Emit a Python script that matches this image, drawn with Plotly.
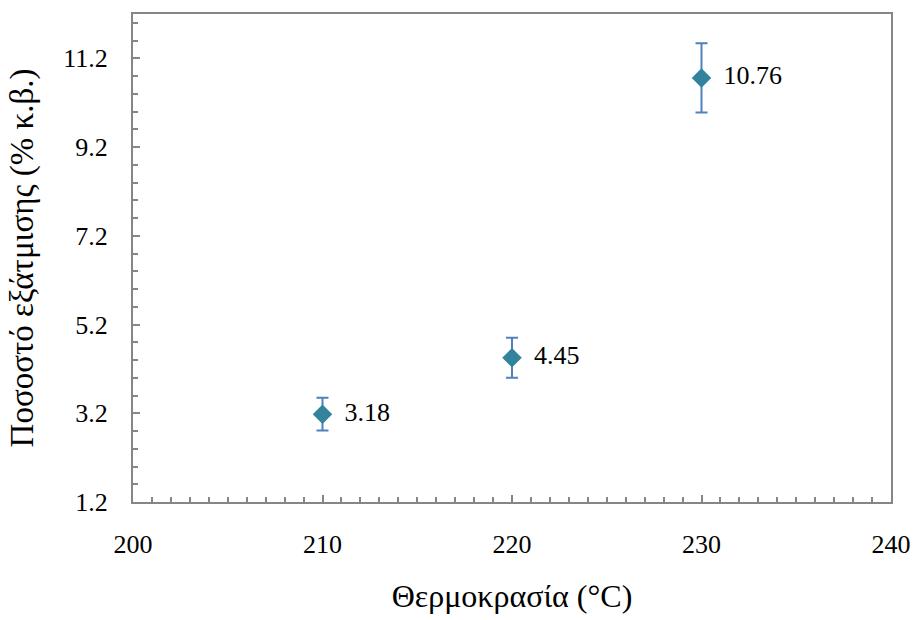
import plotly.graph_objects as go

temperature = [210, 220, 230]
evaporation = [3.18, 4.45, 10.76]
error = [0.37, 0.45, 0.78]
labels = ["3.18", "4.45", "10.76"]

x_ticks = [200, 210, 220, 230, 240]
y_ticks = [1.2, 3.2, 5.2, 7.2, 9.2, 11.2]

serif = "Liberation Serif"
axis_grey = "#868686"

fig = go.Figure()
fig.add_trace(go.Scatter(
    x=temperature,
    y=evaporation,
    mode="markers+text",
    text=[" \u2009" + t for t in labels],
    textposition="middle right",
    textfont=dict(family=serif, size=26, color="black"),
    marker=dict(symbol="diamond", size=15, color="#31849B"),
    error_y=dict(type="data", array=error, visible=True,
                 color="#4F81BD", thickness=2, width=6),
    showlegend=False,
    cliponaxis=False,
))

fig.update_layout(
    width=923, height=620,
    margin=dict(l=133, r=21, t=14, b=113),
    plot_bgcolor="white", paper_bgcolor="white",
    font=dict(family=serif, color="black"),
)

fig.update_xaxes(
    range=[200, 240],
    tickvals=x_ticks,
    ticktext=[str(v) for v in x_ticks],
    tickfont=dict(family=serif, size=26),
    showgrid=False, zeroline=False,
    showline=True, linecolor=axis_grey, linewidth=2, mirror=True,
    ticks="inside", ticklen=7, tickcolor=axis_grey, tickwidth=1.5,
    minor=dict(dtick=1, ticks="inside", ticklen=5, tickcolor=axis_grey, tickwidth=1.5),
    ticklabelstandoff=18,
    title=dict(text="Θερμοκρασία (°C)", font=dict(family=serif, size=32), standoff=26),
)

fig.update_yaxes(
    range=[1.2, 12.2],
    tickvals=y_ticks,
    ticktext=[f"{v:.1f}" for v in y_ticks],
    tickfont=dict(family=serif, size=26),
    showgrid=False, zeroline=False,
    showline=True, linecolor=axis_grey, linewidth=2, mirror=True,
    ticks="inside", ticklen=7, tickcolor=axis_grey, tickwidth=1.5,
    minor=dict(tick0=1.2, dtick=0.4, ticks="inside", ticklen=5, tickcolor=axis_grey, tickwidth=1.5),
    ticklabelstandoff=18,
    title=dict(text="Ποσοστό εξάτμισης (% κ.β.)", font=dict(family=serif, size=33), standoff=20),
)

fig.write_html("out.html")
